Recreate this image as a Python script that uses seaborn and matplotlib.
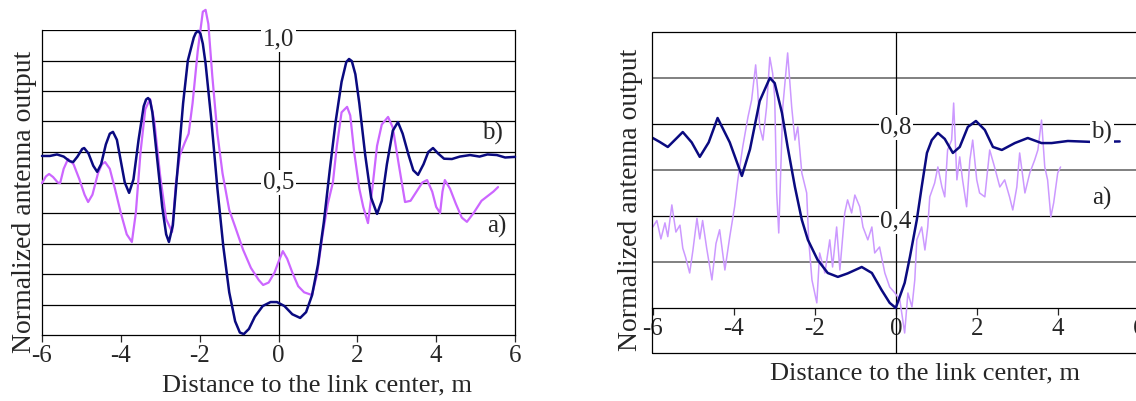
import matplotlib
matplotlib.use('Agg')
import numpy as np
import pandas as pd
import matplotlib.pyplot as plt
import seaborn as sns
from matplotlib.patches import Rectangle

# left panel, curve b) (dark blue)
left_b_x = [-6.00, -5.80, -5.62, -5.45, -5.30, -5.21, -5.10, -4.98, -4.93, -4.82, -4.70, -4.60,
            -4.50, -4.38, -4.28, -4.20, -4.10, -4.00, -3.90, -3.79, -3.68, -3.55, -3.42, -3.36,
            -3.31, -3.26, -3.20, -3.08, -2.95, -2.85, -2.78, -2.68, -2.55, -2.42, -2.30, -2.15,
            -2.10, -2.04, -1.98, -1.92, -1.85, -1.70, -1.55, -1.40, -1.25, -1.10, -0.98, -0.88,
            -0.75, -0.60, -0.40, -0.20, -0.04, 0.15, 0.35, 0.55, 0.70, 0.85, 1.00, 1.15, 1.30,
            1.45, 1.60, 1.72, 1.79, 1.86, 1.95, 2.05, 2.20, 2.35, 2.50, 2.62, 2.75, 2.90, 3.03,
            3.15, 3.30, 3.42, 3.54, 3.68, 3.80, 3.92, 4.05, 4.20, 4.40, 4.60, 4.86, 5.10, 5.30,
            5.54, 5.75, 6.00]
left_b_y = [0.587, 0.587, 0.592, 0.585, 0.570, 0.567, 0.585, 0.610, 0.613, 0.595, 0.555, 0.535,
            0.560, 0.625, 0.660, 0.666, 0.640, 0.570, 0.500, 0.466, 0.510, 0.640, 0.750, 0.772,
            0.777, 0.770, 0.730, 0.580, 0.420, 0.330, 0.305, 0.360, 0.560, 0.760, 0.900, 0.975,
            0.990, 0.997, 0.988, 0.955, 0.890, 0.700, 0.480, 0.290, 0.140, 0.045, 0.008, 0.003,
            0.020, 0.060, 0.095, 0.108, 0.108, 0.095, 0.068, 0.056, 0.075, 0.130, 0.230, 0.370,
            0.540, 0.700, 0.830, 0.895, 0.905, 0.898, 0.855, 0.760, 0.590, 0.450, 0.397, 0.440,
            0.560, 0.670, 0.698, 0.660, 0.590, 0.540, 0.525, 0.560, 0.600, 0.613, 0.595, 0.578,
            0.577, 0.585, 0.590, 0.585, 0.592, 0.590, 0.582, 0.584]

# left panel, curve a) (magenta)
left_a_x = [-6.00, -5.90, -5.82, -5.72, -5.60, -5.54, -5.45, -5.34, -5.20, -5.05, -4.92, -4.83,
            -4.72, -4.58, -4.48, -4.40, -4.28, -4.15, -4.00, -3.85, -3.72, -3.62, -3.50, -3.38,
            -3.26, -3.15, -3.00, -2.85, -2.70, -2.60, -2.50, -2.38, -2.28, -2.18, -2.05, -1.92,
            -1.85, -1.78, -1.68, -1.55, -1.42, -1.25, -1.10, -0.90, -0.70, -0.50, -0.39, -0.25,
            -0.10, 0.00, 0.11, 0.22, 0.35, 0.50, 0.65, 0.85, 0.98, 1.12, 1.25, 1.38, 1.48, 1.60,
            1.74, 1.82, 1.92, 2.05, 2.15, 2.27, 2.38, 2.50, 2.62, 2.78, 2.90, 3.05, 3.21, 3.35,
            3.50, 3.65, 3.77, 3.90, 4.00, 4.10, 4.16, 4.22, 4.35, 4.50, 4.65, 4.78, 4.95, 5.15,
            5.30, 5.45, 5.57]
left_a_y = [0.498, 0.520, 0.528, 0.518, 0.500, 0.498, 0.545, 0.577, 0.560, 0.510, 0.460, 0.436,
            0.460, 0.530, 0.560, 0.567, 0.545, 0.480, 0.400, 0.330, 0.305, 0.400, 0.600, 0.740,
            0.774, 0.700, 0.520, 0.380, 0.338, 0.500, 0.590, 0.630, 0.660, 0.760, 0.930, 1.060,
            1.066, 1.020, 0.850, 0.660, 0.530, 0.410, 0.355, 0.280, 0.220, 0.180, 0.164, 0.172,
            0.205, 0.240, 0.275, 0.250, 0.205, 0.160, 0.140, 0.131, 0.200, 0.330, 0.430, 0.500,
            0.620, 0.730, 0.748, 0.720, 0.600, 0.480, 0.420, 0.367, 0.480, 0.620, 0.690, 0.715,
            0.680, 0.560, 0.436, 0.440, 0.470, 0.500, 0.508, 0.470, 0.420, 0.400, 0.470, 0.508,
            0.480, 0.430, 0.385, 0.371, 0.400, 0.440, 0.455, 0.470, 0.485]

# right panel, curve b) (dark blue)
right_b_x = [-6.00, -5.83, -5.63, -5.43, -5.26, -5.04, -4.84, -4.62, -4.40, -4.10, -3.80, -3.60,
             -3.36, -3.11, -2.99, -2.81, -2.67, -2.49, -2.32, -2.17, -1.93, -1.68, -1.43, -1.19,
             -0.84, -0.59, -0.35, -0.15, 0.00, 0.22, 0.35, 0.52, 0.64, 0.77, 0.89, 1.04, 1.21,
             1.41, 1.58, 1.78, 1.98, 2.20, 2.40, 2.62, 2.94, 3.26, 3.60, 3.85, 4.25, 4.84, 5.53]
right_b_y = [0.739, 0.722, 0.700, 0.735, 0.765, 0.720, 0.657, 0.720, 0.826, 0.720, 0.574, 0.690,
             0.900, 1.000, 0.978, 0.848, 0.700, 0.526, 0.383, 0.296, 0.209, 0.152, 0.135, 0.150,
             0.178, 0.152, 0.078, 0.022, 0.000, 0.109, 0.222, 0.383, 0.526, 0.674, 0.730, 0.761,
             0.735, 0.674, 0.700, 0.787, 0.813, 0.774, 0.700, 0.687, 0.717, 0.739, 0.717, 0.717,
             0.726, 0.722, 0.724]

# right panel, curve a) (light violet, noisy)
right_a_x = [-6.00, -5.90, -5.80, -5.70, -5.63, -5.53, -5.43, -5.33, -5.26, -5.19, -5.09, -5.01,
             -4.91, -4.84, -4.77, -4.67, -4.54, -4.44, -4.35, -4.22, -4.10, -3.98, -3.90, -3.78,
             -3.65, -3.56, -3.46, -3.41, -3.36, -3.28, -3.19, -3.11, -3.04, -2.99, -2.94, -2.89,
             -2.79, -2.67, -2.57, -2.49, -2.42, -2.32, -2.20, -2.15, -2.07, -1.95, -1.88, -1.75,
             -1.63, -1.56, -1.46, -1.38, -1.26, -1.19, -1.09, -1.01, -0.89, -0.81, -0.69, -0.59,
             -0.52, -0.40, -0.27, -0.15, -0.02, 0.10, 0.22, 0.30, 0.40, 0.47, 0.52, 0.64, 0.72,
             0.79, 0.84, 0.96, 1.04, 1.14, 1.21, 1.28, 1.38, 1.43, 1.51, 1.58, 1.65, 1.75, 1.83,
             1.90, 2.00, 2.07, 2.20, 2.32, 2.44, 2.57, 2.69, 2.81, 2.89, 2.99, 3.06, 3.19, 3.31,
             3.43, 3.51, 3.60, 3.68, 3.75, 3.83, 3.90, 4.00, 4.07]
right_a_y = [0.352, 0.380, 0.300, 0.370, 0.310, 0.448, 0.330, 0.360, 0.260, 0.220, 0.152, 0.250,
             0.390, 0.300, 0.380, 0.260, 0.122, 0.280, 0.340, 0.165, 0.309, 0.440, 0.557, 0.700,
             0.830, 0.904, 1.057, 0.948, 0.787, 0.730, 0.874, 1.090, 1.020, 0.917, 0.500, 0.326,
             0.874, 1.109, 0.874, 0.730, 0.787, 0.587, 0.500, 0.296, 0.122, 0.022, 0.239, 0.152,
             0.296, 0.178, 0.352, 0.165, 0.413, 0.470, 0.413, 0.491, 0.440, 0.352, 0.296, 0.352,
             0.239, 0.265, 0.152, 0.091, 0.065, 0.035, -0.109, 0.065, 0.004, 0.122, 0.296, 0.352,
             0.252, 0.352, 0.483, 0.543, 0.613, 0.526, 0.483, 0.687, 0.730, 0.891, 0.557, 0.657,
             0.557, 0.440, 0.643, 0.730, 0.557, 0.500, 0.483, 0.687, 0.613, 0.526, 0.557, 0.483,
             0.426, 0.526, 0.674, 0.500, 0.587, 0.643, 0.687, 0.817, 0.613, 0.557, 0.396, 0.457,
             0.587, 0.613]

x_ticks = [-6, -4, -2, 0, 2, 4, 6]
x_tick_labels = ['-6', '-4', '-2', '0', '2', '4', '6']
xlabel = 'Distance to the link center, m'
ylabel = 'Normalized antenna output'

navy = '#0a0a80'
magenta = '#cc66ff'
violet = '#cc99ff'

sns.set_style('white')
plt.rcParams['font.family'] = ['Liberation Serif', 'DejaVu Serif']
plt.rcParams['axes.unicode_minus'] = False
plt.rcParams['lines.solid_joinstyle'] = 'round'
fs = 18

fig = plt.figure(figsize=(11.36, 4.01), dpi=100)
ax1 = fig.add_axes([42 / 1136, 66 / 401, 473 / 1136, 305 / 401])
ax2 = fig.add_axes([652 / 1136, 48 / 401, 511 / 1136, 321 / 401])

# ---- left panel
left_a = pd.DataFrame({'x': left_a_x, 'y': left_a_y})
left_b = pd.DataFrame({'x': left_b_x, 'y': left_b_y})
sns.lineplot(data=left_a, x='x', y='y', ax=ax1, color=magenta, lw=1.6, estimator=None, zorder=3)
sns.lineplot(data=left_b, x='x', y='y', ax=ax1, color=navy, lw=1.8, estimator=None, zorder=4)
for line in ax1.lines:
    line.set_clip_on(False)

ax1.set_xlim(-6, 6)
ax1.set_ylim(0, 1.0)
for v in np.arange(0.1, 1.01, 0.1):
    ax1.axhline(v, color='black', lw=0.9, zorder=1)
ax1.axvline(0, color='black', lw=0.9, zorder=1)
for s in ['left', 'right', 'bottom']:
    ax1.spines[s].set_color('black')
    ax1.spines[s].set_linewidth(0.9)
ax1.spines['top'].set_visible(False)
ax1.set_yticks([])
ax1.set_xticks(x_ticks)
ax1.set_xticklabels(x_tick_labels)
ax1.tick_params(axis='x', direction='out', length=5, width=0.9, labelsize=fs, pad=2, bottom=True)
box = dict(facecolor='white', edgecolor='none', pad=1)
ax1.text(0, 0.97, '1,0', ha='center', va='center', fontsize=fs, bbox=box, zorder=6)
ax1.text(0, 0.5, '0,5', ha='center', va='center', fontsize=fs, bbox=box, zorder=6)
ax1.text(5.42, 0.662, 'b)', ha='center', va='center', fontsize=fs, zorder=6)
ax1.text(5.54, 0.357, 'a)', ha='center', va='center', fontsize=fs, zorder=6)
ax1.set_xlabel(xlabel, fontsize=19)
ax1.set_ylabel(ylabel, fontsize=20)
ax1.xaxis.set_label_coords(0.581, -0.128)
ax1.yaxis.set_label_coords(-0.011, 0.436)

# ---- right panel
right_a = pd.DataFrame({'x': right_a_x, 'y': right_a_y})
right_b = pd.DataFrame({'x': right_b_x, 'y': right_b_y})
sns.lineplot(data=right_a, x='x', y='y', ax=ax2, color=violet, lw=1.1, estimator=None, zorder=3)
sns.lineplot(data=right_b, x='x', y='y', ax=ax2, color=navy, lw=1.8, estimator=None, zorder=4)

ax2.set_xlim(-6.02, 6.6)
ax2.set_ylim(-0.196, 1.2)
for v in [0.2, 0.6, 1.0]:
    ax2.axhline(v, color='#808080', lw=1.4, zorder=1)
for v in [0.4, 0.8]:
    ax2.axhline(v, color='black', lw=0.9, zorder=1)
ax2.axvline(0, color='black', lw=0.9, zorder=1)
for s in ['left', 'right', 'top']:
    ax2.spines[s].set_visible(False)
ax2.spines['bottom'].set_position(('data', 0))
ax2.spines['bottom'].set_color('black')
ax2.spines['bottom'].set_linewidth(0.9)
ax2.add_patch(Rectangle((0, 0), 1, 1, transform=ax2.transAxes, fill=False,
                        edgecolor='black', lw=0.9, clip_on=False, zorder=5))
ax2.set_yticks([])
ax2.set_xticks(x_ticks)
ax2.set_xticklabels(x_tick_labels)
ax2.tick_params(axis='x', direction='out', length=5, width=0.9, labelsize=fs, pad=2, bottom=True)
ax2.text(0, 0.785, '0,8', ha='center', va='center', fontsize=fs, bbox=box, zorder=6)
ax2.text(0, 0.375, '0,4', ha='center', va='center', fontsize=fs, bbox=box, zorder=6)
ax2.text(5.09, 0.765, 'b)', ha='center', va='center', fontsize=fs, bbox=box, zorder=6)
ax2.text(5.09, 0.478, 'a)', ha='center', va='center', fontsize=fs,
         bbox=dict(facecolor='white', edgecolor='none', pad=4), zorder=6)
ax2.set_xlabel(xlabel, fontsize=19)
ax2.set_ylabel(ylabel, fontsize=20)
ax2.xaxis.set_label_coords(0.534, -0.028)
ax2.yaxis.set_label_coords(-0.017, 0.477)

fig.savefig('out.png', dpi=100)
